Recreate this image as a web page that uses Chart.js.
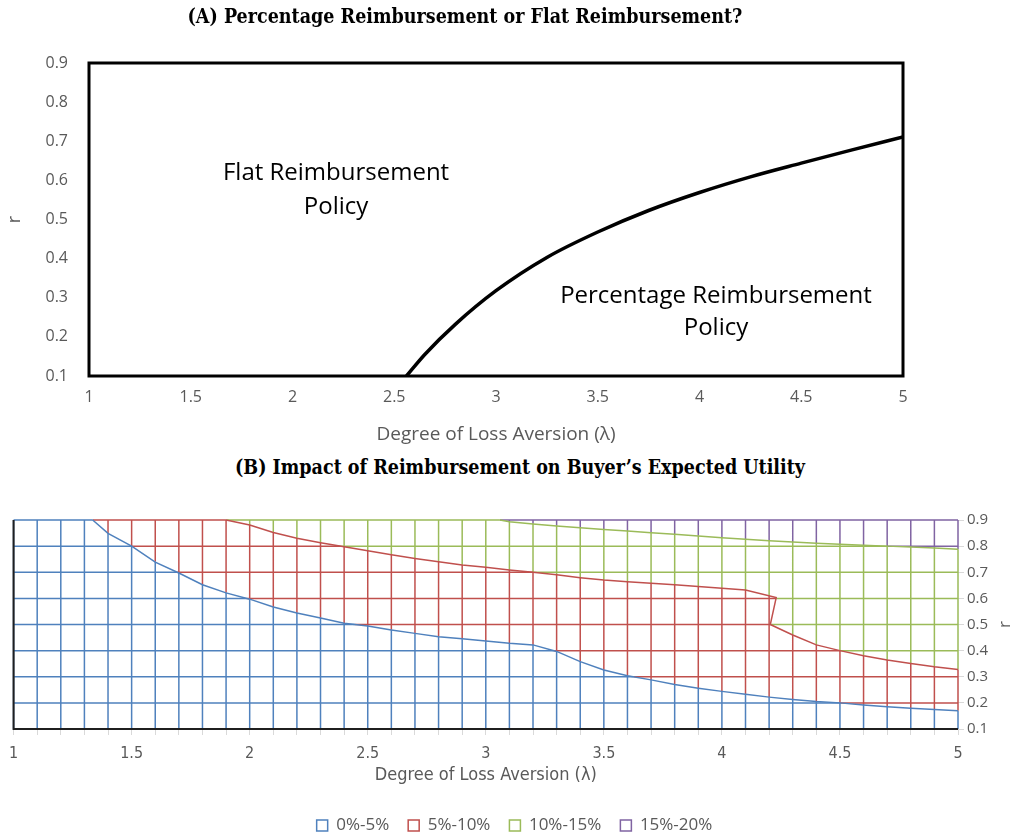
<!DOCTYPE html>
<html>
<head>
<meta charset="utf-8">
<title>Percentage vs flat reimbursement</title>
<script src="https://cdn.jsdelivr.net/npm/chart.js@4.4.1/dist/chart.umd.min.js"></script>
<style>
  body { margin: 0; background: #fff; width: 1017px; height: 834px; overflow: hidden; position: relative; }
  canvas { position: absolute; left: 0; }
  #chartA { top: 0; }
  #chartB { top: 490px; }
  .title {
    position: absolute; left: 0; z-index: 2; white-space: nowrap; text-align: center;
    font-family: 'DejaVu Serif Condensed', 'DejaVu Serif', serif; font-weight: bold;
    font-size: 19.5px; line-height: 22px; color: #000;
  }
  #titleA { width: 930px; top: 6px; }
  #titleB { width: 1040px; top: 457px; }
</style>
</head>
<body>
<div class="title" id="titleA">(A) Percentage Reimbursement or Flat Reimbursement?</div>
<div class="title" id="titleB">(B) Impact of Reimbursement on Buyer’s Expected Utility</div>
<canvas id="chartA" width="1017" height="450"></canvas>
<canvas id="chartB" width="1017" height="370"></canvas>
<script>
// ---- Panel A: policy boundary ----
const policyLambda = [2.56, 2.65, 2.8, 3.0, 3.25, 3.5, 3.75, 4.0, 4.25, 4.5, 4.75, 5.0];
const policyR = [0.10, 0.155, 0.232, 0.318, 0.403, 0.468, 0.523, 0.569, 0.609, 0.644, 0.678, 0.711];
const flatLabel = ['Flat Reimbursement', 'Policy'];
const percentLabel = ['Percentage Reimbursement', 'Policy'];

// ---- Panel B: surface grid and contour edges ----
const lambdaGrid = [1.0, 1.1, 1.2, 1.3, 1.4, 1.5, 1.6, 1.7, 1.8, 1.9, 2.0, 2.1, 2.2, 2.3, 2.4, 2.5, 2.6, 2.7, 2.8, 2.9,
  3.0, 3.1, 3.2, 3.3, 3.4, 3.5, 3.6, 3.7, 3.8, 3.9, 4.0, 4.1, 4.2, 4.3, 4.4, 4.5, 4.6, 4.7, 4.8, 4.9, 5.0];
const rGrid = [0.1, 0.2, 0.3, 0.4, 0.5, 0.6, 0.7, 0.8, 0.9];
const bandNames = ['0%-5%', '5%-10%', '10%-15%', '15%-20%'];
const bandColors = ['#4F81BD', '#C0504D', '#9BBB59', '#8064A2'];

// 5% contour
const edge5Lambda = [1.335, 1.4, 1.5, 1.6, 1.7, 1.8, 1.9, 2.0, 2.1, 2.2, 2.3, 2.4, 2.5, 2.6, 2.7, 2.8, 2.9, 3.0, 3.1, 3.2,
  3.3, 3.4, 3.5, 3.6, 3.7, 3.8, 3.9, 4.0, 4.1, 4.2, 4.3, 4.4, 4.5, 4.6, 4.7, 4.8, 4.9, 5.0];
const edge5R = [0.9, 0.849, 0.80, 0.739, 0.697, 0.652, 0.621, 0.597, 0.567, 0.544, 0.525, 0.505, 0.494, 0.479, 0.466, 0.453, 0.445, 0.437, 0.428, 0.422,
  0.397, 0.358, 0.326, 0.304, 0.288, 0.27, 0.256, 0.244, 0.233, 0.222, 0.213, 0.205, 0.2, 0.192, 0.185, 0.179, 0.175, 0.17];
// 10% contour
const edge10Lambda = [1.9, 2.0, 2.1, 2.2, 2.3, 2.4, 2.5, 2.6, 2.7, 2.8, 2.9, 3.0, 3.1, 3.2, 3.3, 3.4, 3.5, 3.6, 3.7, 3.8,
  3.9, 4.0, 4.1, 4.23, 4.205, 4.3, 4.4, 4.5, 4.6, 4.7, 4.8, 4.9, 5.0];
const edge10R = [0.9, 0.881, 0.852, 0.83, 0.813, 0.798, 0.782, 0.767, 0.753, 0.74, 0.728, 0.719, 0.709, 0.70, 0.69, 0.679, 0.67, 0.664, 0.658, 0.652,
  0.645, 0.639, 0.632, 0.603, 0.50, 0.46, 0.422, 0.40, 0.38, 0.364, 0.351, 0.338, 0.328];
// 15% contour
const edge15Lambda = [3.06, 3.1, 3.2, 3.3, 3.4, 3.5, 3.6, 3.7, 3.8, 3.9, 4.0, 4.1, 4.2, 4.3, 4.4, 4.5, 4.6, 4.7, 4.8, 4.9, 5.0];
const edge15R = [0.9, 0.893, 0.885, 0.877, 0.870, 0.864, 0.858, 0.851, 0.845, 0.839, 0.832, 0.826, 0.821, 0.816, 0.811, 0.807, 0.803, 0.80, 0.797, 0.793, 0.788];

const tickGray = '#595959';
const sans = "'Open Sans', 'DejaVu Sans', sans-serif";
const narrow = "'Liberation Sans Narrow', 'DejaVu Sans Condensed', sans-serif";

const pairs = (xs, ys) => xs.map((x, i) => ({ x: x, y: ys[i] }));
const plainNum = (v) => String(Math.round(v * 10) / 10);

// ---------- Panel A ----------
const boxAndLabels = {
    id: 'boxAndLabels',
    afterDatasetsDraw(chart) {
        const { ctx, chartArea: a, scales: { x, y } } = chart;
        ctx.save();
        ctx.strokeStyle = '#000';
        ctx.lineWidth = 3;
        ctx.strokeRect(a.left, a.top, a.right - a.left, a.bottom - a.top);

        ctx.fillStyle = '#000';
        ctx.font = '24px ' + sans;
        ctx.textAlign = 'center';
        ctx.textBaseline = 'middle';
        const drawBlock = (lines, cx, cy, gap) => {
            lines.forEach((t, i) => ctx.fillText(t, cx, cy + (i - (lines.length - 1) / 2) * gap));
        };
        drawBlock(flatLabel, x.getPixelForValue(2.214), y.getPixelForValue(0.575), 34);
        drawBlock(percentLabel, x.getPixelForValue(4.081), y.getPixelForValue(0.264), 32);
        ctx.restore();
    }
};

new Chart(document.getElementById('chartA'), {
    type: 'line',
    data: {
        datasets: [{
            data: pairs(policyLambda, policyR),
            borderColor: '#000',
            borderWidth: 3.5,
            pointRadius: 0,
            fill: false,
            cubicInterpolationMode: 'monotone'
        }]
    },
    options: {
        responsive: false,
        animation: false,
        layout: { padding: { top: 63, right: 114, left: 0, bottom: 0 } },
        plugins: { legend: { display: false }, tooltip: { enabled: false } },
        scales: {
            x: {
                type: 'linear',
                min: 1,
                max: 5,
                ticks: { stepSize: 0.5, padding: 12, color: tickGray, font: { family: sans, size: 16 }, callback: plainNum },
                grid: { display: false, drawTicks: false },
                border: { display: false },
                title: {
                    display: true,
                    text: 'Degree of Loss Aversion (λ)',
                    color: tickGray,
                    font: { family: sans, size: 19 },
                    padding: { top: 0, bottom: 4 }
                },
                afterFit: (scale) => { scale.height = 74; }
            },
            y: {
                min: 0.1,
                max: 0.9,
                ticks: { stepSize: 0.1, padding: 21, color: tickGray, font: { family: sans, size: 16 } },
                grid: { display: false, drawTicks: false },
                border: { display: false },
                title: {
                    display: true,
                    text: 'r',
                    color: tickGray,
                    font: { family: sans, size: 18 },
                    padding: { top: 4, bottom: 0 }
                },
                afterFit: (scale) => { scale.width = 89; }
            }
        }
    },
    plugins: [boxAndLabels]
});

// ---------- Panel B ----------
const contours = [
    { x: edge5Lambda, r: edge5R },
    { x: edge10Lambda, r: edge10R },
    { x: edge15Lambda, r: edge15R }
];

// how many contours lie below the point (x, r): counts crossings of a downward ray
function bandAt(x, r) {
    const xs = Math.min(Math.max(x, 1.00001), 4.99999);
    let band = 0;
    contours.forEach(c => {
        let n = 0;
        for (let i = 0; i < c.x.length - 1; i++) {
            const xa = c.x[i], xb = c.x[i + 1];
            if (xs >= Math.min(xa, xb) && xs < Math.max(xa, xb)) {
                const rc = c.r[i] + (xs - xa) * (c.r[i + 1] - c.r[i]) / (xb - xa);
                if (rc < r) n++;
            }
        }
        if (n % 2 === 1) band++;
    });
    return band;
}

const gridLines = bandNames.map(() => []);

function splitLine(x0, r0, x1, r1, steps) {
    let start = 0;
    let cur = bandAt(x0 + (x1 - x0) * 0.5 / steps, r0 + (r1 - r0) * 0.5 / steps);
    const push = (a, b, band) => {
        gridLines[band].push(
            { x: x0 + (x1 - x0) * a / steps, y: r0 + (r1 - r0) * a / steps },
            { x: x0 + (x1 - x0) * b / steps, y: r0 + (r1 - r0) * b / steps },
            { x: x0 + (x1 - x0) * b / steps, y: null }
        );
    };
    for (let i = 1; i < steps; i++) {
        const t = (i + 0.5) / steps;
        const b = bandAt(x0 + (x1 - x0) * t, r0 + (r1 - r0) * t);
        if (b !== cur) {
            push(start, i, cur);
            start = i;
            cur = b;
        }
    }
    push(start, steps, cur);
}

lambdaGrid.forEach(x => splitLine(x, rGrid[0], x, rGrid[rGrid.length - 1], 400));
rGrid.forEach(r => splitLine(lambdaGrid[0], r, lambdaGrid[lambdaGrid.length - 1], r, 2000));

const frameB = {
    id: 'frameB',
    afterDatasetsDraw(chart) {
        const { ctx, chartArea: a } = chart;
        ctx.save();
        ctx.strokeStyle = '#1f1f1f';
        ctx.lineWidth = 2;
        ctx.beginPath();
        ctx.moveTo(a.left, a.top);
        ctx.lineTo(a.left, a.bottom);
        ctx.lineTo(a.right, a.bottom);
        ctx.stroke();

        ctx.fillStyle = tickGray;
        ctx.font = '17px ' + sans;
        ctx.textAlign = 'center';
        ctx.textBaseline = 'middle';
        ctx.translate(a.right + 47, (a.top + a.bottom) / 2);
        ctx.rotate(-Math.PI / 2);
        ctx.fillText('r', 0, 0);
        ctx.restore();
    }
};

const contourSets = contours.map((c, i) => ({
    label: 'edge' + i,
    data: pairs(c.x, c.r),
    borderColor: bandColors[i],
    backgroundColor: '#fff',
    borderWidth: 1.5,
    pointRadius: 0,
    fill: false,
    clip: false
}));

const gridSets = bandNames.map((name, i) => ({
    label: name,
    data: gridLines[i],
    borderColor: bandColors[i],
    backgroundColor: '#fff',
    borderWidth: 1.5,
    pointRadius: 0,
    fill: false,
    spanGaps: false,
    clip: false
}));

new Chart(document.getElementById('chartB'), {
    type: 'line',
    data: { datasets: contourSets.concat(gridSets) },
    options: {
        responsive: false,
        animation: false,
        layout: { padding: { top: 30, right: 0, left: 12, bottom: 16 } },
        plugins: {
            tooltip: { enabled: false },
            legend: {
                position: 'bottom',
                labels: {
                    filter: (item) => item.datasetIndex >= contourSets.length,
                    boxWidth: 11,
                    boxHeight: 11,
                    padding: 19,
                    color: tickGray,
                    font: { family: sans, size: 17 }
                }
            }
        },
        scales: {
            x: {
                type: 'linear',
                min: 1,
                max: 5,
                ticks: {
                    stepSize: 0.1,
                    autoSkip: false,
                    maxRotation: 0,
                    padding: 9,
                    color: tickGray,
                    font: { family: narrow, size: 16 },
                    callback: (v) => Math.abs(v * 2 - Math.round(v * 2)) < 1e-6 ? plainNum(v) : ''
                },
                grid: { display: true, drawOnChartArea: false, drawTicks: true, tickLength: 6, color: '#d9d9d9' },
                border: { display: false },
                title: {
                    display: true,
                    text: 'Degree of Loss Aversion (λ)',
                    color: tickGray,
                    font: { family: narrow, size: 18 },
                    padding: { top: 0, bottom: 12 }
                },
                afterFit: (scale) => { scale.height = 69; }
            },
            y: {
                position: 'right',
                min: 0.1,
                max: 0.9,
                ticks: { stepSize: 0.1, padding: 3, color: tickGray, font: { family: sans, size: 15 } },
                grid: { display: true, drawOnChartArea: false, drawTicks: true, tickLength: 6, color: '#d9d9d9' },
                border: { display: false },
                afterFit: (scale) => { scale.width = 59; }
            }
        }
    },
    plugins: [frameB]
});
</script>
</body>
</html>
